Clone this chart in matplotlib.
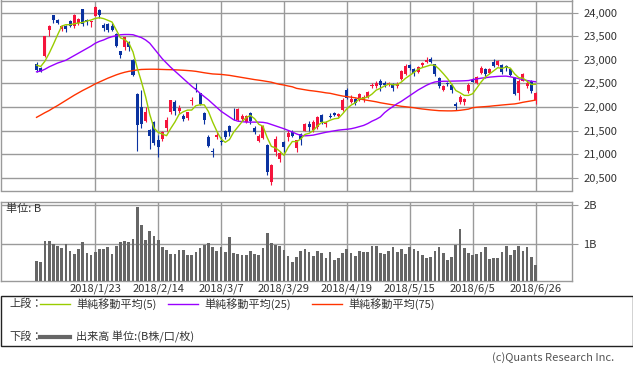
import matplotlib.pyplot as plt
import numpy as np
import pandas as pd
from matplotlib.lines import Line2D
from matplotlib.patches import Rectangle

plt.rcParams['font.family'] = ['Noto Sans CJK JP', 'DejaVu Sans']

# trading days shown (2017/12/28 - 2018/6/26)
jp_holidays = ['2018-01-01', '2018-01-02', '2018-01-03', '2018-01-08', '2018-02-12',
               '2018-03-21', '2018-04-30', '2018-05-03', '2018-05-04']
dates = pd.bdate_range('2017-12-28', '2018-06-26', freq='C', holidays=jp_holidays)

tick_dates = ['2018-01-23', '2018-02-14', '2018-03-07', '2018-03-29',
              '2018-04-19', '2018-05-15', '2018-06-05', '2018-06-26']
tick_labels = ['2018/1/23', '2018/2/14', '2018/3/7', '2018/3/29',
               '2018/4/19', '2018/5/15', '2018/6/5', '2018/6/26']

open_ = [22912, 22831, 23073, 23630, 23948, 23832, 23656, 23719, 23827, 23721,
         23788, 24078, 23848, 23797, 23924, 24061, 23730, 23757, 23707, 23550,
         23178, 23276, 23383, 22985, 22280, 21990, 21700, 21510, 21690, 21300,
         21330, 21550, 21900, 22100, 21925, 21820, 21760, 22120, 22410, 22290,
         21880, 21360, 21075, 21360, 21290, 21490, 21590, 21840, 21730, 21740,
         21690, 21880, 21550, 21290, 21340, 21200, 20420, 21040, 20900, 21260,
         21370, 21480, 21140, 21430, 21500, 21650, 21510, 21570, 21830, 21630,
         21820, 21870, 21800, 21930, 22350, 22100, 22170, 22150, 22150, 22220,
         22440, 22440, 22560, 22510, 22480, 22480, 22440, 22590, 22700, 22880,
         22800, 22750, 22880, 22950, 23020, 22900, 22620, 22350, 22500, 22460,
         22070, 22110, 22100, 22330, 22580, 22500, 22730, 22800, 22720, 22960,
         22890, 22880, 22870, 22800, 22620, 22300, 22560, 22440, 22560, 22140]
high = [22954, 22847, 23506, 23730, 23952, 23864, 23734, 23743, 23833, 23962,
        23891, 24084, 23869, 23816, 24129, 24084, 23775, 23775, 23787, 23560,
        23187, 23492, 23404, 23025, 22290, 22353, 21990, 21530, 21700, 21400,
        21500, 21780, 22152, 22152, 22050, 21850, 21900, 22217, 22502, 22300,
        21900, 21400, 21130, 21500, 21370, 21510, 21620, 21970, 21985, 21850,
        21830, 21900, 21600, 21420, 21620, 21210, 20800, 21390, 21070, 21280,
        21520, 21520, 21300, 21460, 21660, 21700, 21720, 21800, 21850, 21700,
        21870, 21900, 21880, 22190, 22400, 22260, 22200, 22300, 22260, 22340,
        22500, 22550, 22600, 22540, 22530, 22500, 22530, 22790, 22900, 22900,
        22820, 22860, 22950, 23050, 23050, 22920, 22630, 22470, 22530, 22480,
        22100, 22250, 22200, 22510, 22620, 22650, 22860, 22830, 22830, 23010,
        23000, 22900, 22890, 22830, 22640, 22600, 22720, 22560, 22580, 22320]
low = [22736, 22732, 23065, 23500, 23789, 23755, 23601, 23588, 23700, 23665,
       23733, 23705, 23743, 23697, 23920, 23885, 23610, 23580, 23602, 23272,
       23036, 23212, 23195, 22659, 21078, 21560, 21680, 21120, 21190, 20950,
       21290, 21500, 21860, 21840, 21880, 21700, 21730, 22041, 22320, 22040,
       21630, 21150, 20940, 21330, 21190, 21320, 21380, 21720, 21700, 21700,
       21670, 21650, 21420, 21250, 21320, 20560, 20347, 20970, 20830, 21040,
       21280, 21370, 21056, 21200, 21490, 21500, 21480, 21540, 21640, 21580,
       21760, 21800, 21780, 21920, 22170, 22080, 22050, 22130, 22110, 22200,
       22400, 22410, 22340, 22420, 22440, 22330, 22400, 22580, 22680, 22780,
       22660, 22720, 22850, 22930, 22940, 22660, 22400, 22330, 22440, 22300,
       21930, 22060, 22050, 22300, 22520, 22480, 22700, 22620, 22700, 22850,
       22870, 22700, 22760, 22650, 22250, 22150, 22550, 22400, 22300, 22070]
close = [22783, 22764, 23506, 23714, 23849, 23788, 23710, 23653, 23714, 23951,
         23868, 23763, 23808, 23816, 24124, 23940, 23669, 23631, 23629, 23291,
         23098, 23486, 23274, 22682, 21610, 21645, 21890, 21382, 21244, 21154,
         21464, 21720, 22149, 21925, 21970, 21736, 21892, 22153, 22389, 22068,
         21724, 21181, 21042, 21417, 21253, 21368, 21469, 21824, 21968, 21809,
         21803, 21700, 21480, 21380, 21591, 20617, 20766, 21317, 21031, 21159,
         21454, 21388, 21292, 21319, 21645, 21567, 21678, 21794, 21687, 21660,
         21778, 21835, 21847, 22158, 22191, 22162, 22088, 22278, 22215, 22319,
         22467, 22508, 22472, 22467, 22508, 22409, 22497, 22758, 22866, 22818,
         22717, 22838, 22930, 23002, 22960, 22689, 22437, 22450, 22481, 22358,
         22018, 22202, 22171, 22475, 22539, 22625, 22823, 22694, 22804, 22878,
         22966, 22738, 22851, 22680, 22278, 22555, 22693, 22516, 22338, 22300]
# closes of the 4 sessions before the first shown day (for the 5-day average)
prev_close = [22902, 22939, 22892, 22911]

ma25 = [22745, 22760, 22800, 22850, 22890, 22930, 22960, 22990, 23040, 23090,
        23140, 23190, 23240, 23290, 23350, 23390, 23420, 23460, 23490, 23510,
        23530, 23535, 23535, 23530, 23500, 23470, 23420, 23350, 23240, 23130,
        23020, 22930, 22840, 22760, 22680, 22600, 22520, 22440, 22370, 22290,
        22220, 22150, 22070, 21990, 21910, 21850, 21790, 21730, 21700, 21690,
        21680, 21680, 21680, 21680, 21675, 21660, 21630, 21600, 21570, 21540,
        21505, 21470, 21430, 21400, 21390, 21395, 21405, 21425, 21445, 21465,
        21480, 21495, 21510, 21520, 21528, 21540, 21560, 21585, 21610, 21650,
        21700, 21740, 21790, 21880, 21950, 22010, 22070, 22120, 22180, 22240,
        22300, 22360, 22410, 22460, 22500, 22530, 22540, 22545, 22545, 22548,
        22550, 22552, 22555, 22560, 22580, 22595, 22610, 22620, 22632, 22640,
        22648, 22652, 22654, 22640, 22620, 22600, 22580, 22560, 22545, 22535]
ma75 = [21781, 21830, 21880, 21925, 21980, 22030, 22085, 22140, 22195, 22250,
        22300, 22350, 22395, 22440, 22490, 22530, 22570, 22610, 22645, 22680,
        22710, 22735, 22755, 22770, 22785, 22795, 22798, 22800, 22800, 22798,
        22795, 22792, 22790, 22787, 22783, 22778, 22772, 22765, 22755, 22740,
        22725, 22712, 22700, 22695, 22690, 22680, 22670, 22655, 22640, 22625,
        22610, 22595, 22580, 22568, 22555, 22540, 22525, 22500, 22480, 22465,
        22445, 22428, 22395, 22380, 22365, 22350, 22340, 22328, 22315, 22300,
        22290, 22270, 22250, 22232, 22220, 22208, 22195, 22175, 22155, 22140,
        22125, 22110, 22090, 22075, 22060, 22045, 22030, 22015, 22005, 21995,
        21985, 21970, 21958, 21948, 21938, 21930, 21922, 21920, 21918, 21918,
        21922, 21930, 21942, 21955, 21985, 21995, 22002, 22008, 22015, 22025,
        22033, 22042, 22050, 22058, 22065, 22080, 22100, 22115, 22130, 22147]

# volume, billions of shares
volume = [0.545, 0.52, 1.065, 1.065, 0.995, 0.935, 0.88, 0.985, 0.805, 0.735,
          0.855, 1.04, 0.76, 0.71, 0.78, 0.855, 0.855, 0.91, 0.735, 0.935,
          1.04, 1.065, 1.05, 1.115, 1.955, 1.49, 1.09, 1.325, 1.205, 1.09,
          0.92, 0.83, 0.735, 0.735, 0.83, 0.83, 0.70, 0.70, 0.78, 0.88,
          0.96, 1.01, 0.91, 0.805, 0.91, 0.78, 1.17, 0.75, 0.72, 0.70,
          0.70, 0.805, 0.72, 0.70, 0.88, 1.27, 1.01, 0.96, 0.935, 0.83,
          0.675, 0.52, 0.65, 0.805, 0.855, 0.78, 0.675, 0.805, 0.75, 0.62,
          0.78, 0.57, 0.62, 0.75, 0.855, 0.75, 0.675, 0.805, 0.78, 0.78,
          0.935, 0.935, 0.75, 0.72, 0.805, 0.91, 0.78, 0.855, 0.72, 0.91,
          0.855, 0.805, 0.70, 0.62, 0.65, 0.805, 0.91, 0.75, 0.57, 0.65,
          0.96, 1.375, 0.88, 0.75, 0.70, 0.72, 0.78, 0.91, 0.60, 0.62,
          0.62, 0.78, 0.935, 0.70, 0.83, 0.935, 0.805, 0.91, 0.65, 0.44]

UP = '#f5143c'
DOWN = '#0a32a0'
GRID = '#9a9a9a'
C_MA5 = '#99cc00'
C_MA25 = '#9900ff'
C_MA75 = '#ff3300'

o = np.array(open_, float)
h = np.array(high, float)
l = np.array(low, float)
c = np.array(close, float)
x = np.arange(len(dates))
ma5 = pd.Series(prev_close + close, dtype=float).rolling(5).mean().to_numpy()[len(prev_close):]

W, H = 633, 371
fig = plt.figure(figsize=(W / 100, H / 100), dpi=100)


def axes_px(left, top, right, bottom):
    return fig.add_axes([left / W, 1 - bottom / H, (right - left) / W, (bottom - top) / H])


ax = axes_px(0.5, 0.5, 572, 190.5)
axv = axes_px(0.5, 201.5, 572, 280.5)

xlim = (-8.6, 127.7)
tick_pos = dates.get_indexer(pd.to_datetime(tick_dates))

for a in (ax, axv):
    a.set_xlim(*xlim)
    a.set_xticks(tick_pos)
    a.grid(True, color=GRID, lw=1.0)
    a.set_axisbelow(True)
    for s in a.spines.values():
        s.set_color(GRID)
        s.set_linewidth(1.0)
    a.yaxis.tick_right()
    a.tick_params(axis='y', length=4, width=0.8, color=GRID, labelsize=8,
                  labelcolor='#333333', pad=4)
    a.tick_params(axis='x', length=0, labelsize=8, labelcolor='#333333', pad=2)

# candles
up = c >= o
col = np.where(up, UP, DOWN)
ax.vlines(x, l, h, colors=col, lw=0.8, zorder=3)
body_lo = np.minimum(o, c)
body_h = np.maximum(np.abs(c - o), 8)
ax.bar(x, body_h, bottom=body_lo, width=0.72, color=col, lw=0, zorder=4)

ax.plot(x, ma75, color=C_MA75, lw=1.0, zorder=5)
ax.plot(x, ma25, color=C_MA25, lw=1.0, zorder=5)
ax.plot(x, ma5, color=C_MA5, lw=1.0, zorder=5)

ax.set_ylim(20232, 24255)
ax.set_yticks(np.arange(20500, 24001, 500))
ax.set_yticklabels([f'{v:,}' for v in range(20500, 24001, 500)])
ax.set_xticklabels([])

# volume
axv.bar(x, volume, width=0.65, color='#666666', lw=0, zorder=3)
axv.set_ylim(0.039, 2.091)
axv.set_yticks([1, 2])
axv.set_yticklabels(['1B', '2B'])
axv.set_xticklabels(tick_labels)
axv.text(6 / 571.5, 1 - 7 / 79, '単位: B', transform=axv.transAxes, fontsize=8,
         color='#333333', va='center', ha='left')

# legend box
fig.patches.append(Rectangle((0.5 / W, 1 - 346 / H), 632 / W, 50 / H,
                             transform=fig.transFigure, fill=False,
                             ec='#222222', lw=1.0))


def legend_item(x0, y, color, lw, label):
    fig.lines.append(Line2D([x0 / W, (x0 + 30) / W], [1 - y / H] * 2,
                            transform=fig.transFigure, color=color, lw=lw))
    fig.text((x0 + 36) / W, 1 - y / H, label, fontsize=8, color='#333333',
             va='center', ha='left')


fig.text(9 / W, 1 - 304 / H, '上段：', fontsize=8, color='#333333', va='center')
legend_item(40, 304, C_MA5, 1.0, '単純移動平均(5)')
legend_item(168, 304, C_MA25, 1.0, '単純移動平均(25)')
legend_item(312, 304, C_MA75, 1.0, '単純移動平均(75)')
fig.text(9 / W, 1 - 337 / H, '下段：', fontsize=8, color='#333333', va='center')
legend_item(40, 337, '#666666', 3.0, '出来高 単位:(B株/口/枚)')

fig.text(614 / W, 1 - 358 / H, '(c)Quants Research Inc.', fontsize=8,
         color='#555555', ha='right', va='center')

fig.savefig('out.png', dpi=100)
